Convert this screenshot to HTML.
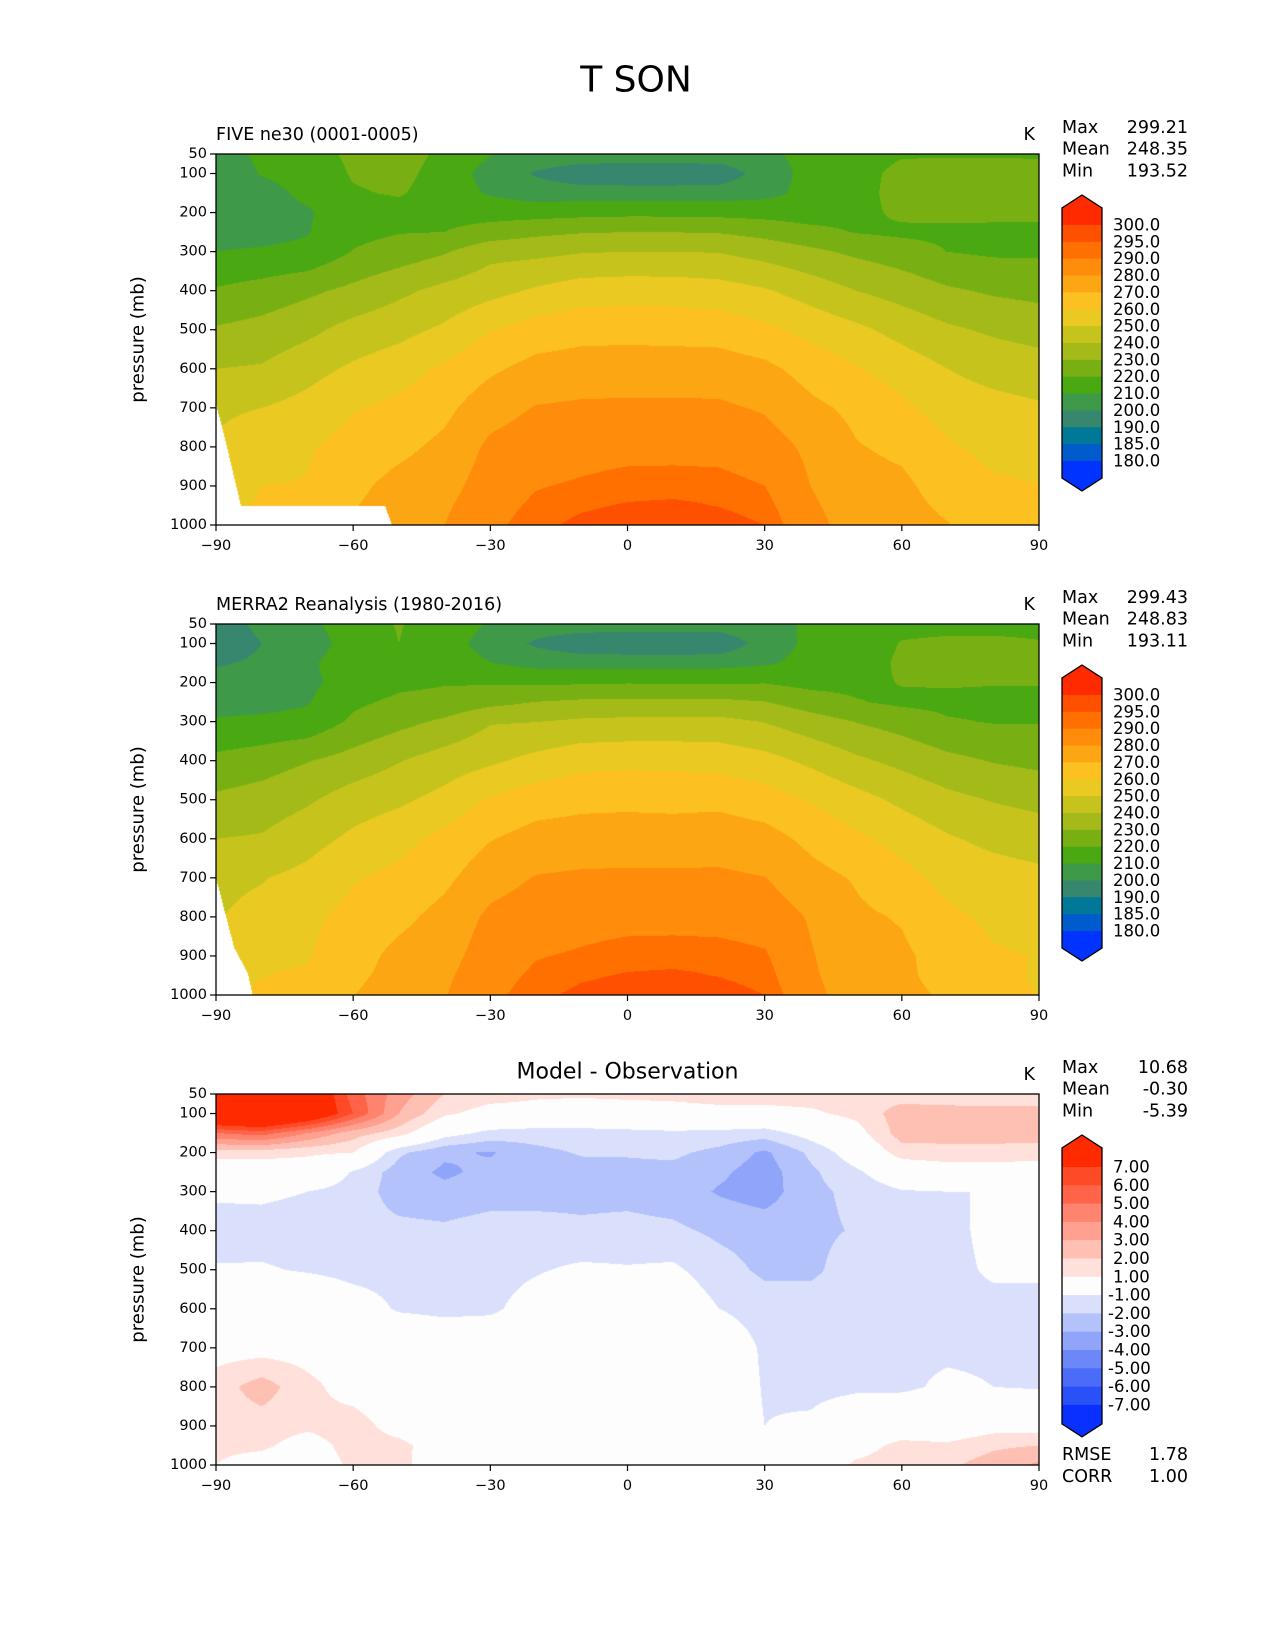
<!DOCTYPE html>
<html><head><meta charset="utf-8">
<style>
html,body{margin:0;padding:0;background:#fff;}
#wrap{position:relative;width:1275px;height:1650px;overflow:hidden;background:#fff;font-family:"DejaVu Sans","Liberation Sans",sans-serif;}
canvas{position:absolute;}
svg{position:absolute;left:0;top:0;}
</style></head>
<body>
<div id="wrap">
<canvas id="c0" width="823" height="371" style="left:216px;top:154px"></canvas>
<canvas id="c1" width="823" height="371" style="left:216px;top:624px"></canvas>
<canvas id="c2" width="823" height="371" style="left:216px;top:1094px"></canvas>
<svg id="ov" width="1275" height="1650"></svg>
</div>
<script>
// ---- data ----
const lats = [-90,-80,-70,-60,-50,-40,-30,-20,-10,0,10,20,30,40,50,60,70,80,90];
const levs = [50,100,150,200,250,300,400,500,600,700,800,900,950,1000];
// model temperature (K), one row per latitude, columns = levs
const modelT = [
[205,204,204,205,207,210,221,231,240,248.5,251,255,257,259],
[212,210.5,207,206,207,211,224,233.4,241,250,255,260,261,262],
[216,213,212,209,209.5,212,228,237.5,246.5,253.4,259,260.5,261.5,262],
[222,221,219,215,217,220.5,232.4,243.5,251.6,259.4,263.6,267.6,269.4,271],
[224,223,221,216,219.5,224.5,237.8,246.9,255.7,262.5,267.5,273.2,274.5,276],
[218,216,215,216.5,220,229,242.9,251.7,261.7,267.5,272.4,276.3,278.5,280],
[210.5,206,209,215.8,224.4,236.7,246.8,259.6,268.3,276.1,282,285,286.5,288],
[207,199,205,216,227.7,237.4,251.3,264.3,273.4,280.5,285.2,289.5,291.5,293.5],
[207,193,205,217,229.4,239.3,255.2,266.5,274.8,281.5,286.8,291,294.1,296.5],
[207,192,205,217.5,230,240,255.8,266.8,275,281.7,287.3,292.7,295.5,298],
[207,192,205,217.5,229.9,240,255.6,266.4,275,281.7,287.3,293,296,299],
[207,193,205,217,229.4,239.5,254.3,265.8,275,281.5,287,292.7,294.8,297.5],
[208,205,207,216.3,226.8,236.1,251,262.3,272.4,279,284.7,290,292.6,295],
[213,213,213,215,223,232.1,245.6,256.9,266.2,272.3,277.8,280,281.5,283],
[215,216,216,217,219.5,228,240,252.2,260.7,267.7,270.6,273.5,275,276],
[219,223,224,222,218,224.8,235.9,246.6,255.5,262,268,272,273,274],
[219,224,224,222.5,218,219.9,231.4,241.6,250,255.7,261.2,265.8,268.1,270.5],
[219,224,224,222,218,218.5,228.6,238.5,246.2,253.4,257.1,261.5,263,264.5],
[219,223,224,222,218,218.5,227,236.3,244.2,251.3,255.8,260.2,261.5,263]
];
// model minus observation (K)
const diffT = [
[9,10,5,1.5,0,-0.8,-1.5,-0.9,0,0.5,1.5,1.5,1.2,1],
[10,10.5,5.5,1.5,0,-0.8,-1.4,-0.9,0,0.5,2.5,1.5,1.2,0.5],
[9,9,4,1.2,0.2,-1.0,-1.5,-1.1,0.2,0.5,1.3,1.2,0.5,0.3],
[5.5,6,2.5,1.0,-1.1,-1.4,-1.6,-1.3,-0.5,0.3,0.5,1.5,1.4,1.2],
[3.5,3,1.5,-1.8,-2.5,-2.5,-1.7,-1.3,-1.1,0,0,0.5,1.3,1.2],
[2,1.2,-0.5,-2.8,-3.2,-2.7,-1.8,-1.4,-1.2,-0.3,-0.8,0,0.3,0.5],
[1.5,0.5,-1.3,-3.1,-2.7,-2.5,-1.5,-1.4,-1.2,0,0,0,0,0],
[1.2,0.5,-1.5,-2.3,-2.5,-2.4,-1.6,-1.1,-0.5,0,0,0,0,0],
[1.2,0.2,-1.4,-1.9,-2.4,-2.3,-1.8,-0.8,0,0,0,0,0,0],
[1.3,0.3,-1.3,-1.9,-2.3,-2.3,-1.7,-0.9,0,0,0,0,0,0],
[1.3,0.5,-1.2,-1.8,-2.3,-2.5,-1.8,-0.8,0,0,0,0,0,0],
[1.5,0.6,-1.3,-2.3,-2.8,-3.1,-2.2,-1.6,-1.0,0,0,0,0,0],
[1.5,0.6,-1.5,-3.2,-3.5,-3.5,-2.4,-2.2,-1.5,-1.2,-1.1,-1.0,-0.3,0],
[1.5,0.8,-0.5,-1.8,-2.2,-2.3,-2.3,-2.3,-1.3,-1.2,-1.3,-0.8,0,0],
[1.5,1.3,0.5,-0.3,-1.2,-1.7,-1.9,-1.3,-1.2,-1.4,-1.2,0,0.5,1.2],
[1.5,2.5,2.5,1.5,0,-1.1,-1.4,-1.3,-1.1,-1.2,-1.2,0.2,1.3,1.5],
[1.3,2.5,2.6,1.5,0.5,-1.0,-1.2,-1.2,-1.1,-1.2,-0.8,0,1.2,1.8],
[1.2,2.5,2.6,1.5,0.5,-1.0,-0.8,-0.9,-1.2,-1.2,-1.0,0.5,1.8,2.5],
[1.2,2.5,2.5,1.5,0.3,-1.0,-0.5,-0.9,-1.2,-1.2,-1.1,0.5,2,3.2]
];
// surface pressure masks
const sfcLat1 = [-90,-88,-86,-84.5,-53,-51.5];
const sfcP1 = [690,780,880,952,952,1000];
const sfcLat2 = [-90,-86,-83,-82];
const sfcP2 = [700,880,945,1000];
// contour levels & colours
const tLevels = [180,185,190,200,210,220,230,240,250,260,270,280,290,295,300];
const tColors = ['#0033ff','#005ccc','#007898','#36876e','#3e9a48','#4aa812','#78b014','#a4ba18','#c6c41c','#eac922','#fcc020','#fca614','#ff8c0a','#ff7000','#ff5000','#ff2a00'];
const dLevels = [-7,-6,-5,-4,-3,-2,-1,1,2,3,4,5,6,7];
const dColors = ['#0a30ff','#2a50f8','#4a6cf8','#6c88f8','#90a4fa','#b4c2fc','#dae0fc','#fdfdfd','#ffe0da','#ffc0b4','#ffa090','#ff8470','#ff6448','#ff4a28','#ff2a00'];
const tLabels = ['300.0','295.0','290.0','280.0','270.0','260.0','250.0','240.0','230.0','220.0','210.0','200.0','190.0','185.0','180.0'];
const dLabels = ['7.00','6.00','5.00','4.00','3.00','2.00','1.00','-1.00','-2.00','-3.00','-4.00','-5.00','-6.00','-7.00'];
const yTicks = [50,100,200,300,400,500,600,700,800,900,1000];
const xTicks = [-90,-60,-30,0,30,60,90];
const stats1 = ['299.21','248.35','193.52'];
const stats2 = ['299.43','248.83','193.11'];
const stats3 = ['10.68','-0.30','-5.39'];
const metrics = ['1.78','1.00'];

// ---- geometry ----
const PX=216, PW=823, PH=371;
const panelTops=[154,624,1094];
function xOf(lat){return PX+(lat+90)/180*PW;}
function yOf(p,top){return top+(p-50)/950*PH;}

function hex(c){return [parseInt(c.substr(1,2),16),parseInt(c.substr(3,2),16),parseInt(c.substr(5,2),16)];}
function interp1(xs,ys,x){
  if(x<=xs[0])return ys[0];
  for(let i=1;i<xs.length;i++){if(x<=xs[i]){const t=(x-xs[i-1])/(xs[i]-xs[i-1]);return ys[i-1]+t*(ys[i]-ys[i-1]);}}
  return ys[ys.length-1];
}
function field(grid,lat,p){
  let fi=(lat+90)/10; let i0=Math.min(Math.floor(fi),lats.length-2); let tx=fi-i0;
  let j0=0; while(j0<levs.length-2 && p>levs[j0+1]) j0++;
  let ty=(p-levs[j0])/(levs[j0+1]-levs[j0]); ty=Math.max(0,Math.min(1,ty));
  const a=grid(i0,j0),b=grid(i0+1,j0),c=grid(i0,j0+1),d=grid(i0+1,j0+1);
  return (a*(1-tx)+b*tx)*(1-ty)+(c*(1-tx)+d*tx)*ty;
}
function bin(levels,v){let k=0;while(k<levels.length&&v>=levels[k])k++;return k;}
function drawPanel(id,grid,levels,colors,sfcLat,sfcP){
  const cv=document.getElementById(id),ctx=cv.getContext('2d');
  const img=ctx.createImageData(PW,PH);const cols=colors.map(hex);
  for(let px=0;px<PW;px++){
    const lat=-90+(px+0.5)/PW*180;
    const ps=sfcLat?(lat>sfcLat[sfcLat.length-1]?1000:interp1(sfcLat,sfcP,lat)):1000;
    for(let py=0;py<PH;py++){
      const p=50+(py+0.5)/PH*950;const o=(py*PW+px)*4;
      let c=[255,255,255];
      if(p<=ps){c=cols[bin(levels,field(grid,lat,p))];}
      img.data[o]=c[0];img.data[o+1]=c[1];img.data[o+2]=c[2];img.data[o+3]=255;
    }
  }
  ctx.putImageData(img,0,0);
}
drawPanel('c0',(i,j)=>modelT[i][j],tLevels,tColors,sfcLat1,sfcP1);
drawPanel('c1',(i,j)=>modelT[i][j]-diffT[i][j],tLevels,tColors,sfcLat2,sfcP2);
drawPanel('c2',(i,j)=>diffT[i][j],dLevels,dColors,null,null);

// ---- overlay ----
const NS='http://www.w3.org/2000/svg';const ov=document.getElementById('ov');
function el(tag,attrs,txt){const e=document.createElementNS(NS,tag);for(const k in attrs)e.setAttribute(k,attrs[k]);if(txt!==undefined)e.textContent=txt;ov.appendChild(e);return e;}
function fmtLat(v){return v<0?'\u2212'+(-v):''+v;}
let t=el('text',{x:636,y:80,'font-size':36,'text-anchor':'middle','dominant-baseline':'central',fill:'#000'},'T SON');



const subs=['FIVE ne30 (0001-0005)','MERRA2 Reanalysis (1980-2016)',null];
const statSets=[stats1,stats2,stats3];
for(let k=0;k<3;k++){
  const top=panelTops[k];
  const r=el('rect',{x:PX,y:top,width:PW,height:PH,fill:'none',stroke:'#000','stroke-width':1.3});
  
  
  for(const p of yTicks){
    const y=yOf(p,top);
    const tk=el('line',{x1:PX-6,x2:PX,y1:y,y2:y,stroke:'#000','stroke-width':1.2});
    
    
    const lb=el('text',{x:PX-9,y:y,'font-size':14.5,'text-anchor':'end','dominant-baseline':'central'},''+p);
    
    
  }
  for(const v of xTicks){
    const x=xOf(v);
    const tk=el('line',{x1:x,x2:x,y1:top+PH,y2:top+PH+6,stroke:'#000','stroke-width':1.2});
    
    
    const lb=el('text',{x:x,y:top+PH+21,'font-size':14.5,'text-anchor':'middle','dominant-baseline':'central'},fmtLat(v));
    
    
  }
  const yl=el('text',{x:0,y:0,'font-size':18,'text-anchor':'middle','dominant-baseline':'central',transform:'translate(138,'+(top+PH/2)+') rotate(-90)'},'pressure (mb)');
  
  
  if(subs[k]){
    const s=el('text',{x:PX,y:top-19,'font-size':17.5,'dominant-baseline':'central'},subs[k]);
    
    
  } else {
    const s=el('text',{x:PX+PW/2,y:top-22,'font-size':22,'text-anchor':'middle','dominant-baseline':'central'},'Model - Observation');
    
    
  }
  const u=el('text',{x:PX+PW-4,y:top-19,'font-size':17.5,'text-anchor':'end','dominant-baseline':'central'},'K');
  
  
  const names=['Max','Mean','Min'];
  for(let i=0;i<3;i++){
    const yy=top-26+i*21.7;
    const a=el('text',{x:1062,y:yy,'font-size':17.5,'dominant-baseline':'central'},names[i]);
    
    
    const b=el('text',{x:1188,y:yy,'font-size':17.5,'text-anchor':'end','dominant-baseline':'central'},statSets[k][i]);
    
    
  }
  // colorbar
  const isD=(k===2);
  const colors=isD?dColors:tColors, labels=isD?dLabels:tLabels;
  const apex=top+41, bh=isD?18.3:16.857, sh=13, eh=isD?19:17;
  const x0=1062,x1=1102,xc=1082;
  const nInner=colors.length-2;
  const firstB=apex+sh+eh;
  let pg=el('polygon',{points:`${xc},${apex} ${x1},${apex+sh} ${x1},${firstB} ${x0},${firstB} ${x0},${apex+sh}`,fill:colors[colors.length-1]});
  
  
  for(let i=0;i<nInner;i++){
    const rr=el('rect',{x:x0,y:firstB+i*bh,width:40,height:bh+0.5,fill:colors[colors.length-2-i]});
    
    
  }
  const lastB=firstB+nInner*bh;
  pg=el('polygon',{points:`${x0},${lastB} ${x1},${lastB} ${x1},${lastB+eh} ${xc},${lastB+eh+sh} ${x0},${lastB+eh}`,fill:colors[0]});
  
  
  pg=el('polygon',{points:`${xc},${apex} ${x1},${apex+sh} ${x1},${lastB+eh} ${xc},${lastB+eh+sh} ${x0},${lastB+eh} ${x0},${apex+sh}`,fill:'none',stroke:'#000','stroke-width':1.3});
  
  
  for(let i=0;i<labels.length;i++){
    const neg=labels[i][0]==='-';
    const lb=el('text',{x:neg?1108:1113,y:firstB+i*bh,'font-size':16.5,'dominant-baseline':'central'},labels[i]);
    
    
  }
}
const mn=['RMSE','CORR'];
for(let i=0;i<2;i++){
  const a=el('text',{x:1062,y:1455+i*22,'font-size':17.5,'dominant-baseline':'central'},mn[i]);
  
  
  const b=el('text',{x:1188,y:1455+i*22,'font-size':17.5,'text-anchor':'end','dominant-baseline':'central'},metrics[i]);
  
  
}
</script>
</body></html>
